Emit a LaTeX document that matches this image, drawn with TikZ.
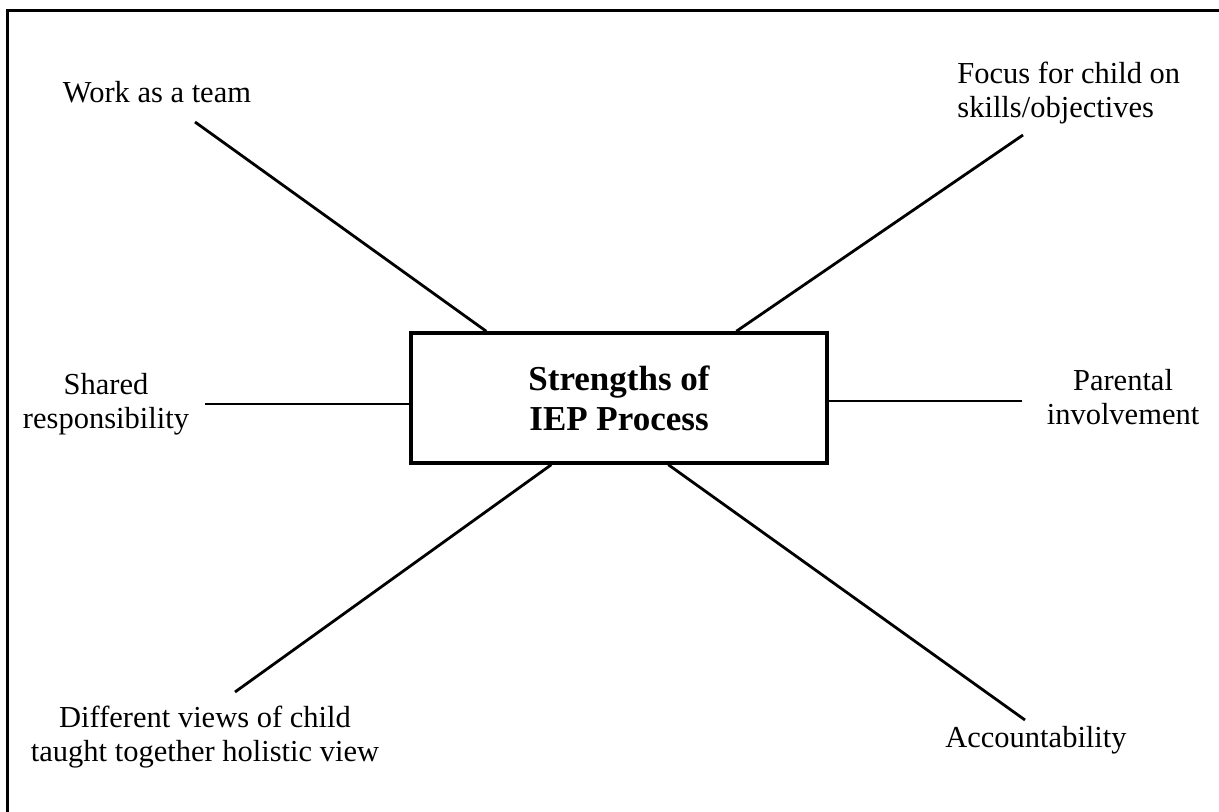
\documentclass[tikz,border=0pt]{standalone}
\usepackage{fontspec}
\setmainfont{Liberation Serif}
\usetikzlibrary{calc}

\tikzset{
  label/.style={inner sep=0pt, align=center,
    font=\fontsize{15.25}{17.25}\selectfont},
  hub/.style={draw, line width=1.7pt, inner sep=0pt,
    minimum width=208pt, minimum height=65pt, align=center,
    font=\bfseries\fontsize{17.5}{20}\selectfont},
  spoke/.style={line width=1.4pt},
  frame/.style={line width=1.5pt}
}

\begin{document}
\begin{tikzpicture}[x=0.5pt, y=-0.5pt]
  \useasboundingbox (0,0) rectangle (1219,812);

  % open frame: top and left edges
  \draw[frame] (7,812) -- (7,11) -- (1219,11);

  % central box
  \node[hub] (box) at (619,398) {Strengths of\\IEP Process};

  % labels
  \node[label, anchor=base] (team) at (157,103) {Work as a team};
  \node[label, align=left, anchor=west] (focus) at (957,93)
    {Focus for child on\\skills/objectives};
  \node[label] (shared) at (106,404) {Shared\\responsibility};
  \node[label] (parent) at (1123,397) {Parental\\involvement};
  \node[label] (views) at (205,737)
    {Different views of child\\taught together holistic view};
  \node[label, anchor=base] (acc) at (1036,747) {Accountability};

  % free ends of the spokes
  \coordinate (cTeam)   at (195,122);
  \coordinate (cFocus)  at (1023,135);
  \coordinate (cShared) at (205,404);
  \coordinate (cParent) at (1022,401);
  \coordinate (cViews)  at (235,692);
  \coordinate (cAcc)    at (1025,720);

  % spokes from the box
  \draw[spoke] ($(box.north west)+(77,0)$)  -- (cTeam);
  \draw[spoke] ($(box.north west)+(327,0)$) -- (cFocus);
  \draw[spoke] ($(box.west)+(0,6)$)         -- (cShared);
  \draw[spoke] ($(box.east)+(0,3)$)         -- (cParent);
  \draw[spoke] ($(box.south west)+(142,0)$) -- (cViews);
  \draw[spoke] ($(box.south west)+(259,0)$) -- (cAcc);
\end{tikzpicture}
\end{document}
